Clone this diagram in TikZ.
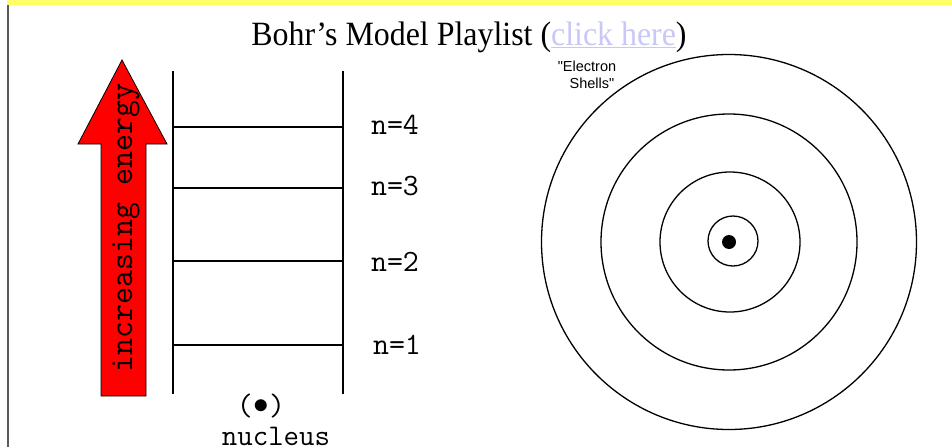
\documentclass[tikz,border=0pt]{standalone}
\usepackage{fontspec}
\setmainfont{Liberation Serif}
\newfontfamily\sansf{Liberation Sans}
\definecolor{linkblue}{HTML}{C8C8F8}
\definecolor{bandyellow}{HTML}{FFFF66}
\begin{document}
\begin{tikzpicture}[x=1pt,y=-1pt,
  rung/.style={line width=2.3pt,line cap=rect},
  shell/.style={circle,draw,line width=1.3pt,inner sep=0pt},
  lvl/.style={font=\ttfamily\fontsize{31}{34}\selectfont,inner sep=0pt},
  ttl/.style={font=\fontsize{34}{38}\selectfont,inner sep=0pt,anchor=base},
  small/.style={font=\sansf\fontsize{14.5}{17}\selectfont,inner sep=0pt}]
\useasboundingbox (0,0) rectangle (952,447);
\fill[white] (0,0) rectangle (952,447);
% top band and left border
\fill[bandyellow] (7,0) rectangle (952,5);
\draw[line width=1.5pt,gray!70!black] (8,5) -- (8,447);
% title
\node[ttl] (title) at (469,45) {\scalebox{0.938}[1]{Bohr’s Model Playlist ({\color{linkblue}\underline{click here}})}};
% energy arrow
\draw[fill=red,line width=0.8pt] (122,60) -- (167,144) -- (146,144) -- (146,396) -- (101,396) -- (101,144) -- (78,144) -- cycle;
\node[font=\ttfamily\fontsize{33}{36}\selectfont,rotate=90,inner sep=0pt] (arrowtext) at (126,228) {increasing energy};
% ladder
\coordinate (lt) at (173,72); \coordinate (lb) at (173,393);
\coordinate (rt) at (343,72); \coordinate (rb) at (343,393);
\draw[rung] (lt) -- (lb);
\draw[rung] (rt) -- (rb);
\foreach \y/\n in {127/4,188/3,261/2,345/1}{
  \coordinate (a\n) at (173,\y); \coordinate (b\n) at (343,\y);
  \draw[rung] (a\n) -- (b\n);
}
\node[lvl] (n4) at (395,125) {n=4};
\node[lvl] (n3) at (395,186) {n=3};
\node[lvl] (n2) at (395,262) {n=2};
\node[lvl] (n1) at (397,345) {n=1};
\node[lvl,text depth=0pt] (dot) at (261,405) {(\makebox[0.525em]{\raisebox{2.5pt}{\scalebox{1.25}{$\bullet$}}})};
\node[lvl,anchor=base,font=\ttfamily\fontsize{30}{33}\selectfont] (nuc) at (276,445) {nucleus};
% shells
\node[shell,minimum size=375pt] (s4) at (729,242) {};
\node[shell,minimum size=256pt] (s3) at (729,242) {};
\node[shell,minimum size=140pt] (s2) at (730,242) {};
\node[shell,minimum size=50pt] (s1) at (733,241) {};
\node[circle,fill=black,minimum size=14pt,inner sep=0pt] (nucleus) at (729,242) {};
\node[small] (el1) at (587,66) {"Electron};
\node[small] (el2) at (592,83) {Shells"};
\end{tikzpicture}
\end{document}
